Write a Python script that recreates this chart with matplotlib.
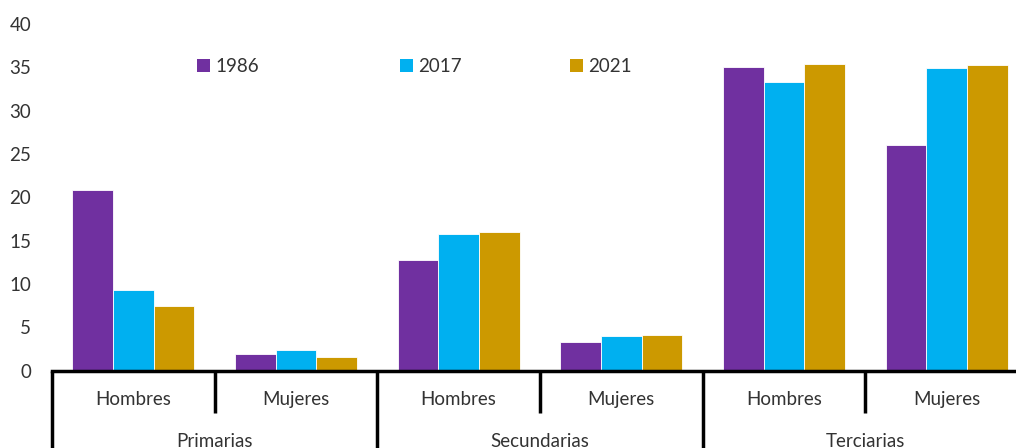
import numpy as np
import matplotlib.pyplot as plt
from matplotlib.patches import Patch
from matplotlib.transforms import blended_transform_factory

plt.rcParams['font.family'] = ['Lato', 'DejaVu Sans']

niveles = ["Primarias", "Secundarias", "Terciarias"]
sexos = ["Hombres", "Mujeres"]
anios = ["1986", "2017", "2021"]

# Hombres/Mujeres por nivel: Primarias, Secundarias, Terciarias
v1986 = [20.8, 1.9, 12.7, 3.3, 35.0, 26.0]
v2017 = [9.3, 2.4, 15.8, 4.0, 33.3, 34.9]
v2021 = [7.4, 1.6, 16.0, 4.1, 35.4, 35.3]
colores = ["#7030A0", "#00B0F0", "#CC9900"]

texto = "#333333"
fs = 13.5

fig = plt.figure(figsize=(10.16, 4.48), dpi=100)
# the last group runs a little past the right edge of the figure
ax = fig.add_axes([52 / 1016, (448 - 370.5) / 448, 976 / 1016, 346.5 / 448])

x = np.arange(6) + 0.5
ancho = 0.25
for i, (vals, c) in enumerate(zip([v1986, v2017, v2021], colores)):
    ax.bar(x + (i - 1) * ancho, vals, ancho, color=c,
           edgecolor="white", linewidth=0.6, label=anios[i])

ax.set_xlim(0, 6)
ax.set_ylim(0, 40)
ax.set_yticks(range(0, 41, 5))
ax.set_xticks([])
ax.tick_params(axis="y", length=0, pad=15, labelsize=fs, labelcolor=texto)
for s in ["top", "right", "left"]:
    ax.spines[s].set_visible(False)
ax.spines["bottom"].set_linewidth(2.5)
ax.spines["bottom"].set_color("black")

# two-level category axis below the bars
tr = blended_transform_factory(ax.transData, ax.transAxes)
for k in range(7):
    y_fin = -0.26 if k % 2 == 0 else -0.1227
    ax.plot([k, k], [0, y_fin], transform=tr, color="black", lw=2.5,
            clip_on=False, solid_capstyle="butt")
for k in range(6):
    ax.text(k + 0.5, -0.0823, sexos[k % 2], transform=tr, ha="center",
            va="center", fontsize=fs, color=texto)
for j, nivel in enumerate(niveles):
    ax.text(2 * j + 1, -0.2035, nivel, transform=tr, ha="center",
            va="center", fontsize=fs, color=texto)

# legend entries placed one by one across the top
pos_x = [197, 400, 570]
for anio, c, px in zip(anios, colores, pos_x):
    leg = fig.legend(handles=[Patch(facecolor=c, label=anio)],
                     loc="center left", bbox_to_anchor=(px / 1016, 1 - 67 / 448),
                     frameon=False, fontsize=fs, handlelength=0.68,
                     handleheight=0.68, handletextpad=0.3, borderpad=0,
                     borderaxespad=0)
    for t in leg.get_texts():
        t.set_color(texto)

fig.savefig("out.png", dpi=100)
